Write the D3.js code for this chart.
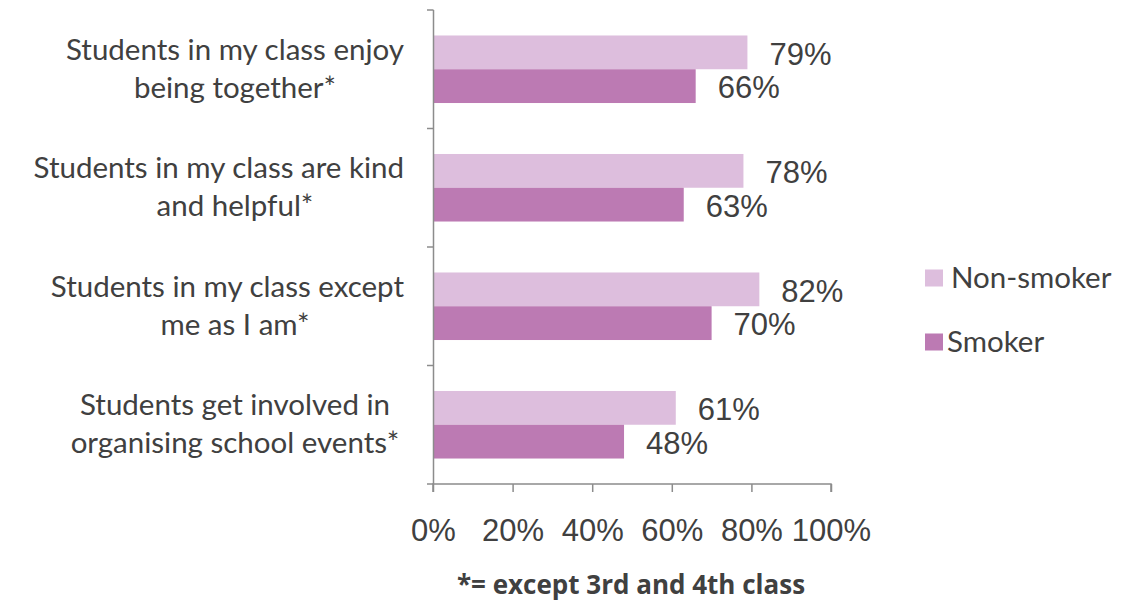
<!DOCTYPE html>
<html>
<head>
<meta charset="utf-8">
<script src="https://cdn.jsdelivr.net/npm/d3@7/dist/d3.min.js"></script>
<style>
  html, body { margin: 0; padding: 0; background: #fff; }
  svg { display: block; }
</style>
</head>
<body>
<svg id="chart" width="1130" height="605"></svg>
<script>
// Survey statements (each split over two lines) and share agreeing, by smoking status
const categories = [
  ["Students in my class enjoy", "being together*"],
  ["Students in my class are kind", "and helpful*"],
  ["Students in my class except", "me as I am*"],
  ["Students get involved in", "organising school events*"]
];
const seriesNames = ["Non-smoker", "Smoker"];
const nonSmoker = [79, 78, 82, 61];
const smoker = [66, 63, 70, 48];
const xTicks = [0, 20, 40, 60, 80, 100];
const footnote = "*= except 3rd and 4th class";

const colors = ["#DDBEDD", "#BC7AB3"];
const textColor = "#404040";
const axisColor = "#8C8C8C";
const labelFont = "Lato, 'Open Sans', sans-serif";
const numberFont = "'Liberation Sans', Arial, sans-serif";

const svg = d3.select("#chart");
const plotLeft = 433, plotRight = 831, plotTop = 10, plotBottom = 484;

const x = d3.scaleLinear().domain([0, 100]).range([plotLeft, plotRight]);
const y = d3.scaleBand().domain(d3.range(categories.length)).range([plotTop, plotBottom]).paddingInner(0.43).paddingOuter(0.215);
const yInner = d3.scaleBand().domain(d3.range(seriesNames.length)).range([0, y.bandwidth()]);
const yOuter = d3.scaleBand().domain(d3.range(categories.length)).range([plotTop, plotBottom]);

const series = [nonSmoker, smoker];

// Bars
series.forEach((vals, s) => {
  svg.append("g").selectAll("rect").data(vals).join("rect")
    .attr("x", x(0))
    .attr("y", (d, i) => y(i) + yInner(s))
    .attr("width", d => x(d) - x(0))
    .attr("height", yInner.bandwidth())
    .attr("fill", colors[s]);

  // Value labels
  svg.append("g").selectAll("text").data(vals).join("text")
    .attr("x", d => x(d) + 22)
    .attr("y", (d, i) => y(i) + yInner(s) + yInner.bandwidth() / 2 + 1)
    .attr("dy", "0.36em")
    .attr("font-family", numberFont)
    .attr("font-size", 31)
    .attr("fill", textColor)
    .text(d => d + "%");
});

// Vertical category axis with tick marks between categories
const yAxisG = svg.append("g");
yAxisG.append("line")
  .attr("x1", plotLeft + 0.5).attr("x2", plotLeft + 0.5)
  .attr("y1", plotTop).attr("y2", plotBottom)
  .attr("stroke", axisColor).attr("stroke-width", 1.5);
const bounds = d3.range(categories.length).map(i => yOuter(i)).concat([plotBottom]);
yAxisG.selectAll("line.tick").data(bounds).join("line")
  .attr("class", "tick")
  .attr("x1", plotLeft - 6).attr("x2", plotLeft + 0.5)
  .attr("y1", d => d).attr("y2", d => d)
  .attr("stroke", axisColor).attr("stroke-width", 1.5);

// Category labels: each line centred, but kept clear of the axis
const labelCenter = 235, labelMaxRight = 404;
const catG = svg.append("g");
categories.forEach((lines, i) => {
  const cy = yOuter(i) + yOuter.bandwidth() / 2;
  lines.forEach((ln, k) => {
    const t = catG.append("text")
      .attr("text-anchor", "middle")
      .attr("font-family", labelFont)
      .attr("font-size", 29.5)
      .attr("fill", textColor)
      .attr("y", cy + (k - 0.5) * 38 - 1)
      .attr("dy", "0.35em")
      .text(ln);
    const w = t.node().getComputedTextLength();
    t.attr("x", Math.min(labelCenter, labelMaxRight - w / 2));
  });
});

// Horizontal value axis
const xAxis = d3.axisBottom(x).tickValues(xTicks).tickSize(8).tickFormat(d => d + "%");
const xAxisG = svg.append("g").attr("transform", `translate(0,${plotBottom})`).call(xAxis);
xAxisG.select(".domain").attr("stroke", axisColor).attr("stroke-width", 1.5)
  .attr("d", `M${plotLeft},8V0H${plotRight}V8`);
xAxisG.selectAll(".tick line").attr("stroke", axisColor).attr("stroke-width", 1.5);
xAxisG.selectAll(".tick text")
  .attr("y", 46)
  .attr("dy", "0.35em")
  .attr("font-family", numberFont)
  .attr("font-size", 31)
  .attr("fill", textColor);

// Legend
const legend = svg.append("g");
const legendY = [278, 342];
seriesNames.forEach((name, s) => {
  legend.append("rect")
    .attr("x", 925).attr("y", legendY[s] - 8.5)
    .attr("width", 18).attr("height", 17)
    .attr("fill", colors[s]);
  legend.append("text")
    .attr("x", s === 0 ? 951 : 947)
    .attr("y", legendY[s])
    .attr("dy", "0.35em")
    .attr("font-family", labelFont)
    .attr("font-size", 29.5)
    .attr("fill", textColor)
    .text(name);
});

// Footnote
svg.append("text")
  .attr("x", 631).attr("y", 585)
  .attr("dy", "0.35em")
  .attr("text-anchor", "middle")
  .attr("font-family", "'Open Sans', sans-serif")
  .attr("font-weight", "bold")
  .attr("font-size", 26)
  .attr("fill", textColor)
  .text(footnote);
</script>
</body>
</html>
